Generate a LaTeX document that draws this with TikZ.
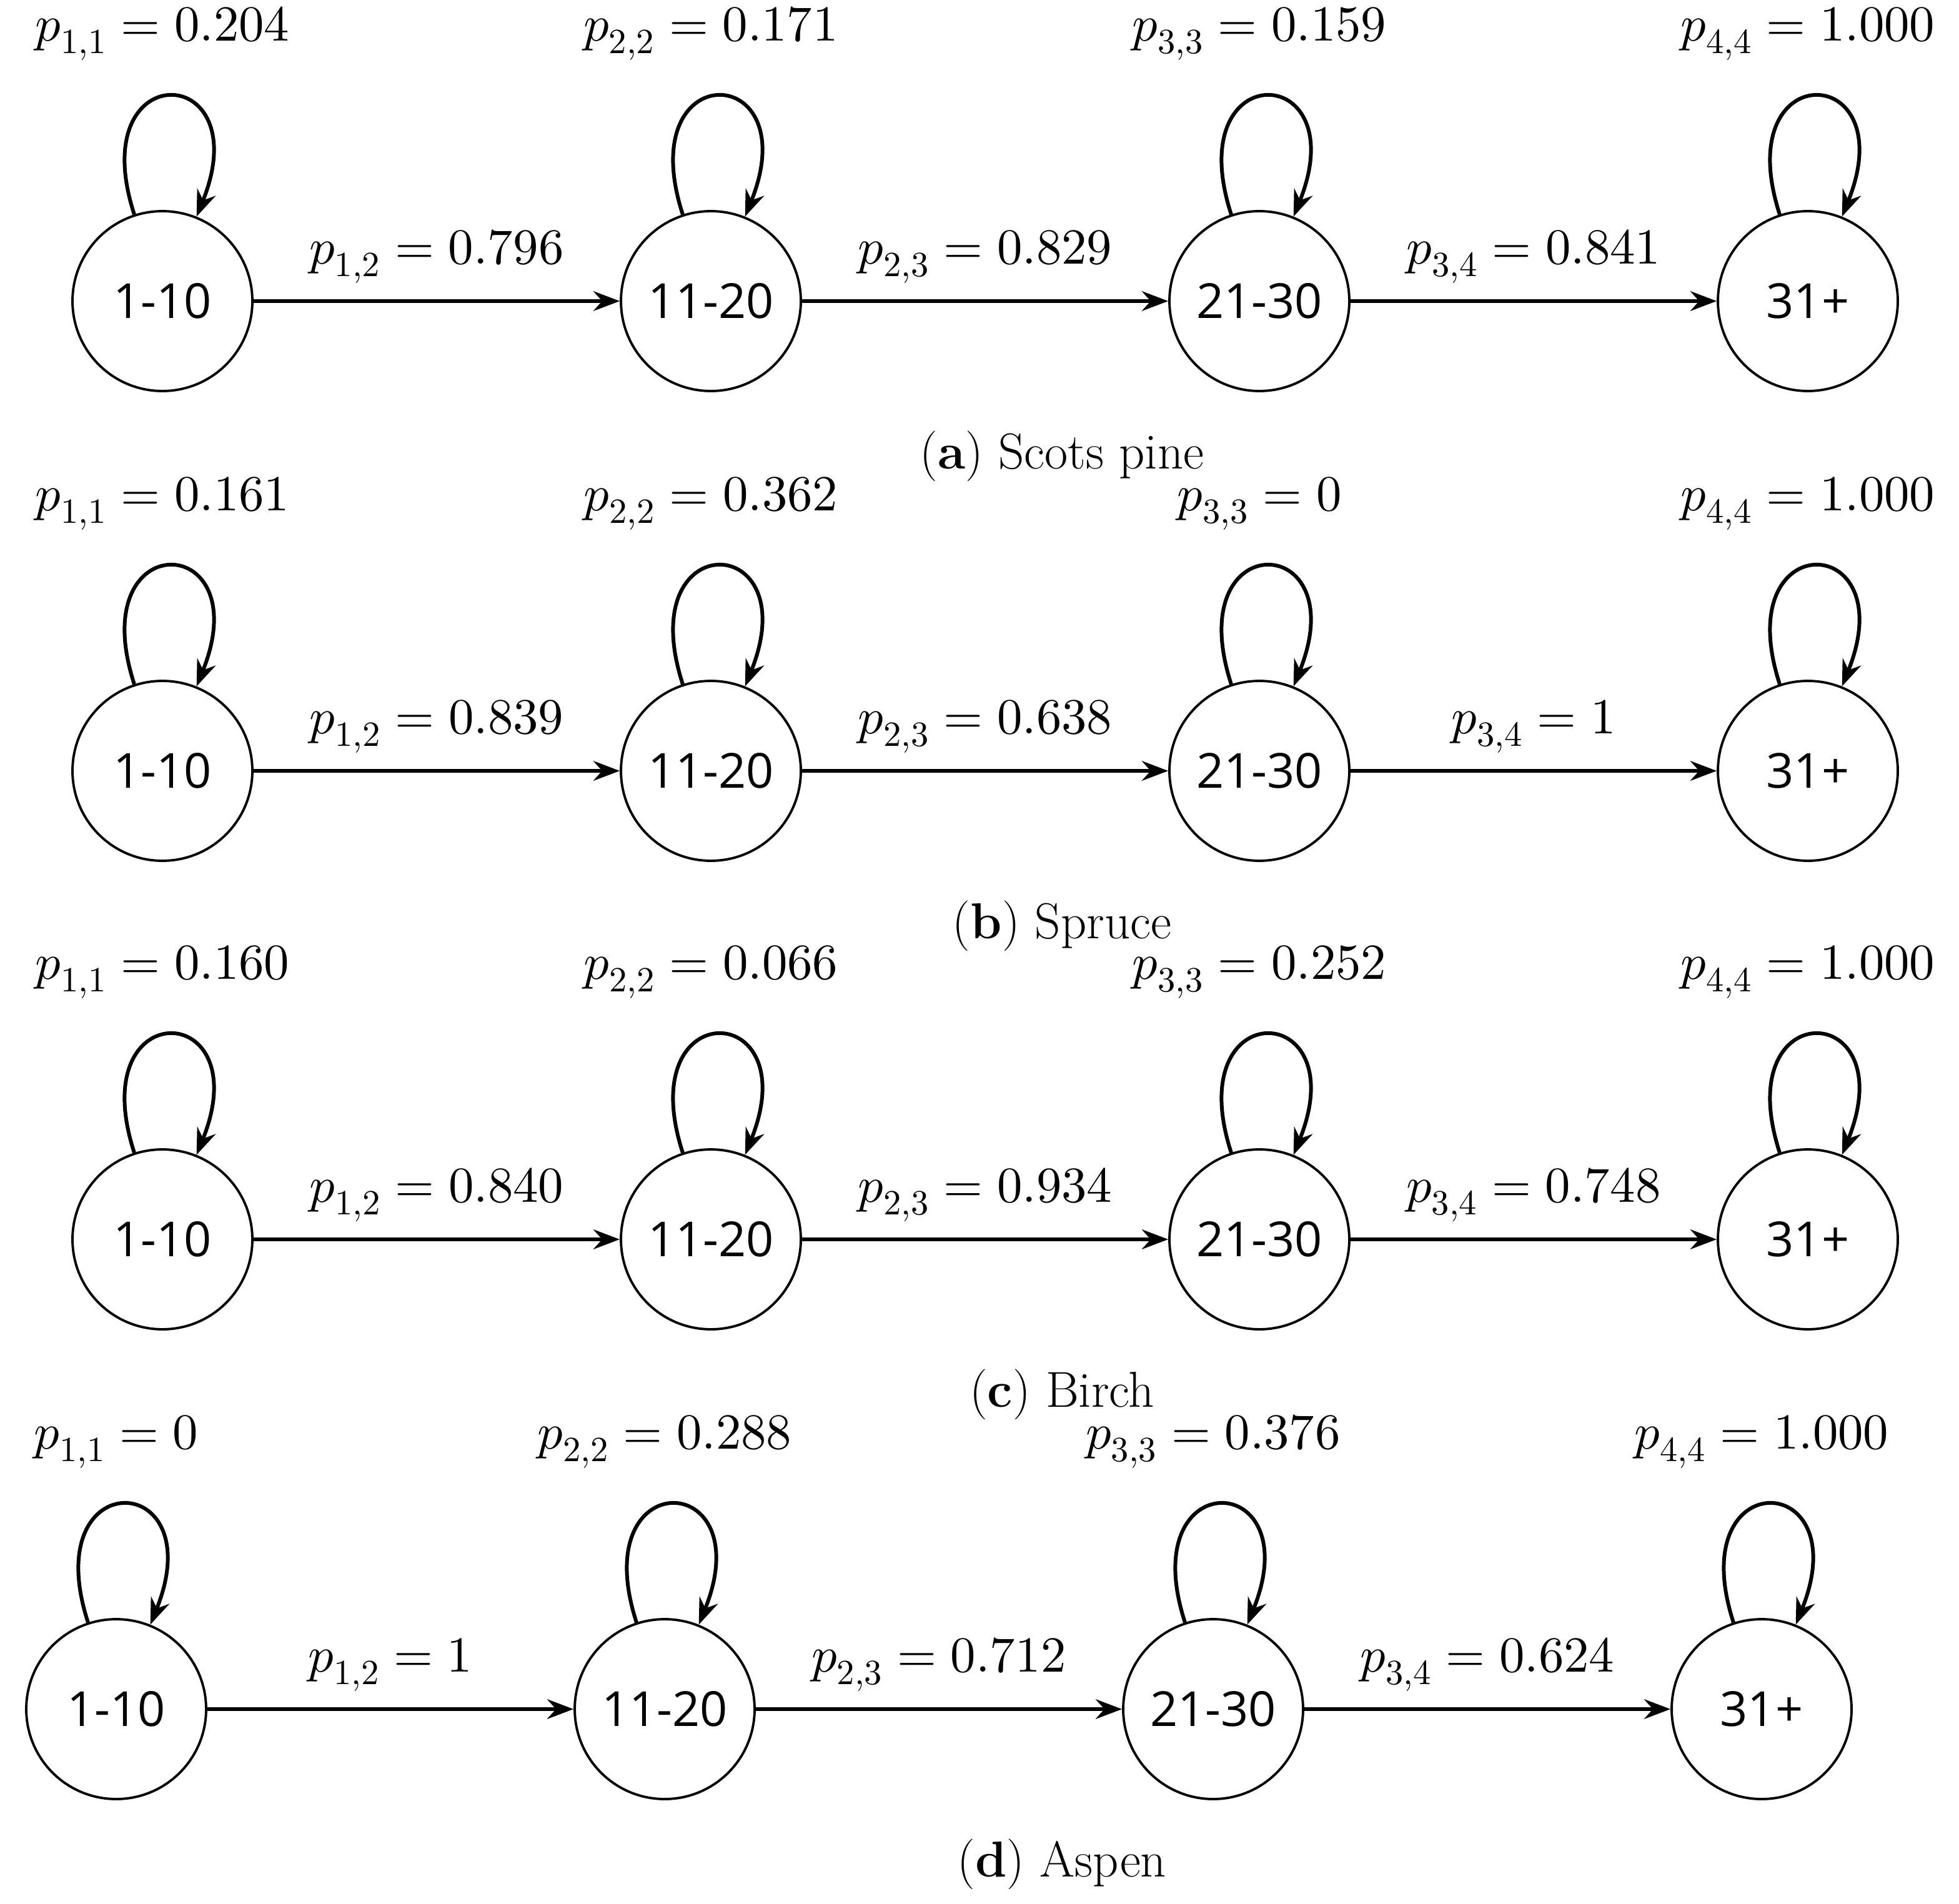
\documentclass[tikz,border=0pt]{standalone}
\usepackage{fontspec}
\newfontfamily\nodefont{Open Sans}
\usepackage{unicode-math}
\setmainfont{Latin Modern Roman}
\usetikzlibrary{arrows.meta}
\begin{document}
\begin{tikzpicture}[x=0.02cm,y=-0.02cm,
  st/.style={circle,draw,line width=1.1pt,minimum size=2.88cm,inner sep=0pt,font=\nodefont\fontsize{22}{26}\selectfont},
  tr/.style={-{Stealth[length=12pt,width=9pt,inset=4pt]},line width=1.7pt},
  lp/.style={tr,out=108,in=68,looseness=1,min distance=2.7cm},
  lab/.style={font=\fontsize{23}{28}\selectfont},
  captxt/.style={font=\fontsize{23}{28}\selectfont}]
\useasboundingbox (0,0) rectangle (1568,1524);
\newcommand{\mkrow}[8]{%
 \node[st] (#3a) at (130+#2,#1) {1-10};
 \node[st] (#3b) at (569+#2,#1) {11-20};
 \node[st] (#3c) at (1008+#2,#1) {21-30};
 \node[st] (#3d) at (1447+#2,#1) {31+};
 \draw[lp] (#3a) to (#3a);
 \draw[lp] (#3b) to (#3b);
 \draw[lp] (#3c) to (#3c);
 \draw[lp] (#3d) to (#3d);
 \node[lab] (#3la) at (130+#2,#1-214) {#4};
 \node[lab] (#3lb) at (569+#2,#1-214) {#5};
 \node[lab] (#3lc) at (1008+#2,#1-214) {#6};
 \node[lab] (#3ld) at (1447+#2,#1-214) {#7};
 \node[captxt] (#3cap) at (850,#1+124) {#8};
}
\newcommand{\mkedges}[5]{%
 \draw[tr] (#1a) -- node[lab,above=4pt] (#1e1) {#2} (#1b);
 \draw[tr] (#1b) -- node[lab,above=4pt] (#1e2) {#3} (#1c);
 \draw[tr] (#1c) -- node[lab,above=4pt] (#1e3) {#4} (#1d);
}
\mkrow{241}{0}{A}{$p_{1,1}=0.204$}{$p_{2,2}=0.171$}{$p_{3,3}=0.159$}{$p_{4,4}=1.000$}{(\textbf{a}) Scots pine}
\mkedges{A}{$p_{1,2}=0.796$}{$p_{2,3}=0.829$}{$p_{3,4}=0.841$}{}
\mkrow{617}{0}{B}{$p_{1,1}=0.161$}{$p_{2,2}=0.362$}{$p_{3,3}=0$}{$p_{4,4}=1.000$}{(\textbf{b}) Spruce}
\mkedges{B}{$p_{1,2}=0.839$}{$p_{2,3}=0.638$}{$p_{3,4}=1$}{}
\mkrow{992}{0}{C}{$p_{1,1}=0.160$}{$p_{2,2}=0.066$}{$p_{3,3}=0.252$}{$p_{4,4}=1.000$}{(\textbf{c}) Birch}
\mkedges{C}{$p_{1,2}=0.840$}{$p_{2,3}=0.934$}{$p_{3,4}=0.748$}{}
\mkrow{1368}{-37}{D}{$p_{1,1}=0$}{$p_{2,2}=0.288$}{$p_{3,3}=0.376$}{$p_{4,4}=1.000$}{(\textbf{d}) Aspen}
\mkedges{D}{$p_{1,2}=1$}{$p_{2,3}=0.712$}{$p_{3,4}=0.624$}{}
\end{tikzpicture}
\end{document}
